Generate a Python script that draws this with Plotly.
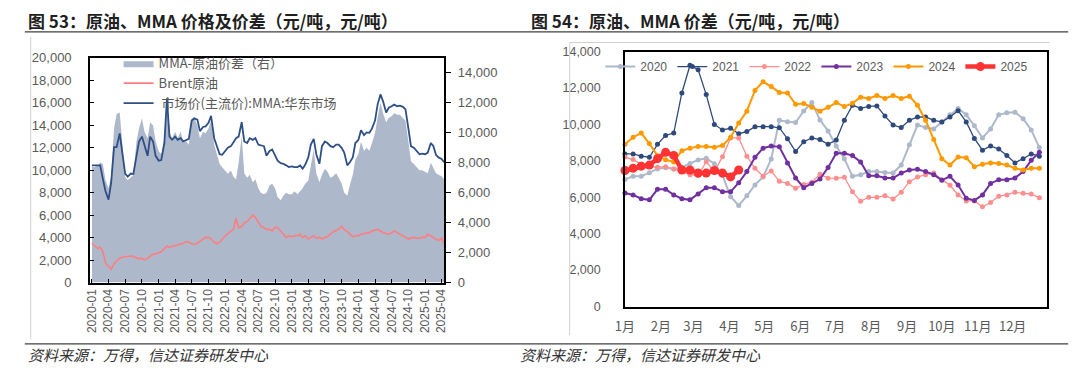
import plotly.graph_objects as go
import pandas as pd

W, H = 1088, 375

# ---------------- Figure 53 data (semi-monthly readings) ----------------
dates_l = pd.date_range('2020-01-01', '2025-04-15', freq='SMS')

spread = [7740, 7700, 7810, 8020, 7910, 6840, 6300, 7050,
          10280, 11250, 11350, 9420, 7050, 6840, 7050, 7160,
          9420, 10280, 10970, 10060, 9630, 10710, 10490, 9420,
          8770, 8560, 9630, 12320, 10060, 9630, 10060, 9630,
          10060, 9420, 9420, 9200, 10920, 11030, 10490, 9630,
          10060, 9960, 10280, 10820, 9200, 8560, 7910, 7700,
          7480, 7270, 7480, 7050, 6900, 8000, 9800, 7300,
          7000, 7200, 6700, 6900, 6300, 6000, 5900, 6000,
          6500, 6600, 6300, 5700, 5500, 5800, 6000, 5900,
          5900, 6100, 5900, 6100, 6300, 6600, 6800, 7800,
          8900, 7300, 6700, 7200, 7600, 7400, 7000, 7100,
          7300, 7000, 6600, 6000, 5800, 6500, 7200, 8200,
          8600, 9400, 8800, 9000, 8800, 9300, 10000, 11000,
          12000, 11300, 10700, 11000, 11100, 11300, 11200, 11200,
          11000, 10800, 9400, 8100, 7900, 7700, 7500, 7500,
          7400, 7300, 8000, 7600, 7300, 7200, 7100, 6900]

brent = [3500, 3300, 3020, 3160, 2740, 1740, 1450, 1170,
         1680, 1880, 2170, 2250, 2310, 2360, 2360, 2310,
         2170, 2110, 2170, 2020, 2170, 2360, 2540, 2540,
         2650, 2740, 3020, 3250, 3110, 3220, 3280, 3360,
         3390, 3500, 3650, 3590, 3450, 3390, 3500, 3680,
         3870, 4020, 4020, 3870, 3590, 3450, 3590, 3870,
         4160, 4360, 4590, 4730, 5730, 4870, 5010, 5300,
         5440, 5730, 6010, 5780, 5300, 5010, 4870, 4730,
         4730, 4590, 4930, 4870, 4590, 4300, 4020, 4160,
         4070, 4160, 4160, 4300, 4020, 4160, 3870, 4020,
         4160, 3960, 4020, 3870, 4020, 4070, 4300, 4530,
         4640, 4730, 5010, 4730, 4530, 4300, 4070, 4160,
         4160, 4300, 4360, 4420, 4440, 4590, 4670, 4730,
         4590, 4440, 4360, 4300, 4440, 4590, 4440, 4300,
         4160, 4020, 3870, 3960, 4020, 3960, 3930, 4020,
         4020, 4300, 4160, 4020, 3870, 3730, 3960, 3450]

mma = [10430, 10430, 10430, 10430, 9200, 8150, 7380, 8860,
       12050, 12050, 13280, 11420, 9700, 9430, 9700, 9660,
       11280, 12560, 12990, 12140, 11280, 12990, 12560, 11280,
       10850, 10900, 12420, 16410, 12990, 12710, 12990, 12700,
       12850, 12560, 12700, 12790, 14420, 14620, 14500, 13480,
       13850, 13900, 14220, 14840, 12850, 12140, 11420, 11370,
       11710, 12000, 12140, 12560, 12850, 12990, 14270, 12560,
       12420, 12850, 12700, 12850, 12280, 12220, 12140, 11280,
       11710, 11850, 11280, 10850, 10630, 10570, 10430, 10280,
       10340, 10280, 10280, 10430, 10140, 10480, 11140, 12280,
       12790, 11420, 10570, 12140, 12560, 12420, 12140, 12050,
       12280, 12280, 11990, 11570, 10430, 10710, 11140, 12420,
       12710, 13560, 13130, 13360, 13330, 13700, 14420, 15840,
       16750, 16130, 15130, 15560, 15700, 15840, 15700, 15750,
       15640, 15410, 13700, 12140, 11990, 11710, 11420, 11480,
       11420, 11570, 12420, 12140, 11370, 11140, 11000, 10710]

quarter_ticks = pd.date_range('2020-01-01', '2025-04-01', freq='QS')
quarter_labels = [d.strftime('%Y-%m') for d in quarter_ticks]

# ---------------- Figure 54 data (weekly readings) ----------------
month_labels = ['1月', '2月', '3月', '4月', '5月', '6月', '7月', '8月', '9月', '10月', '11月', '12月']
month_ticks = pd.date_range('2021-01-01', periods=12, freq='MS')

y2020 = [6980, 7150, 7150, 7350, 7560, 7620, 7560, 7650, 7860, 8050, 8140, 7840, 7200, 6030,
         5550, 6080, 6680, 7120, 8100, 10230, 10150, 10110, 10740, 11200, 10250, 9640, 8820,
         8120, 7150, 7240, 7410, 7410, 7360, 7330, 7770, 8880, 9970, 9830, 9750, 10140, 10530,
         10880, 10530, 9930, 9260, 9750, 10530, 10640, 10670, 10320, 9700, 8730]
y2021 = [8380, 8380, 8260, 8200, 8910, 9400, 9530, 11730, 13250, 13010, 11640, 10000, 9700,
         9790, 9490, 9610, 9880, 9880, 9880, 9820, 9210, 8520, 9050, 9260, 9170, 8910, 9140,
         10230, 11060, 10880, 10990, 11020, 10460, 9970, 9830, 10230, 10410, 10410, 10230,
         10140, 10410, 10760, 10140, 9230, 8590, 8820, 8650, 8290, 7890, 8120, 8380, 8260]
y2022 = [8210, 8070, 7820, 7700, 7650, 7680, 7560, 7420, 7240, 7190, 7950, 7420, 8220, 9260,
         9260, 8260, 7590, 7160, 7440, 6880, 6760, 6500, 6700, 6830, 7260, 7050, 7040, 7100,
         6300, 5780, 6000, 6000, 6090, 5900, 6270, 6860, 7110, 7240, 7340, 6970, 6660, 6130,
         5800, 5800, 5480, 5710, 6060, 6130, 6280, 6220, 6180, 5970]
y2023 = [6230, 6130, 5920, 5860, 6440, 6440, 6130, 5920, 5860, 6180, 6530, 6530, 6300, 6300,
         6800, 7410, 8200, 8700, 8820, 8770, 7890, 7060, 6530, 6760, 7000, 7640, 8420, 8420,
         8290, 7940, 7180, 7180, 7060, 7060, 7330, 7500, 7540, 7410, 7240, 6940, 7150, 6670,
         5950, 5830, 6130, 6760, 6970, 6970, 7060, 7410, 8030, 8470]
y2024 = [8910, 9300, 9530, 8950, 8290, 8060, 7940, 8560, 8700, 8790, 8790, 8750, 8840, 9300,
         10080, 10730, 11870, 12340, 12080, 11760, 11730, 11110, 11150, 10940, 10730, 10940,
         11200, 10990, 11160, 11500, 11430, 11590, 11430, 11590, 11430, 11550, 11060, 10230,
         9170, 8120, 7770, 8210, 8170, 7680, 7820, 7890, 7850, 7770, 7590, 7500, 7590, 7590]
y2025 = [7470, 7590, 7710, 7770, 8120, 8470, 8300, 7500, 7500, 7330, 7330, 7470, 7330, 7120, 7500]

years = ['2020', '2021', '2022', '2023', '2024', '2025']
series = [y2020, y2021, y2022, y2023, y2024, y2025]
colors = ['#ADB9CA', '#2E4A7D', '#FF8F8F', '#7030A0', '#FF9900', '#FF3333']
widths = [2, 1.3, 1.3, 2, 2, 4.5]
msizes = [5, 5, 5, 5, 5, 9]


def px(x):
    return x / W


def py(y):
    return 1 - y / H


fig = go.Figure()

# ---- Figure 53 traces ----
fig.add_trace(go.Scatter(x=dates_l, y=spread, name='MMA-原油价差（右）', mode='lines',
                         fill='tozeroy', fillcolor='#ADB9CA', line=dict(width=0, color='#ADB9CA'),
                         xaxis='x', yaxis='y', legend='legend', hoverinfo='skip'))
fig.add_trace(go.Scatter(x=dates_l, y=brent, name='Brent原油', mode='lines',
                         line=dict(color='#FF7C80', width=1.6),
                         xaxis='x', yaxis='y2', legend='legend'))
fig.add_trace(go.Scatter(x=dates_l, y=mma, name=' 市场价(主流价):MMA:华东市场', mode='lines',
                         line=dict(color='#2F4F86', width=1.8),
                         xaxis='x', yaxis='y2', legend='legend'))

# ---- Figure 54 traces ----
for yr, vals, c, w, ms in zip(years, series, colors, widths, msizes):
    xs = pd.date_range('2021-01-01', periods=len(vals), freq='7D')
    fig.add_trace(go.Scatter(x=xs, y=vals, name=yr, mode='lines+markers',
                             line=dict(color=c, width=w), marker=dict(color=c, size=ms),
                             xaxis='x3', yaxis='y3', legend='legend2', cliponaxis=False))

tickfont = dict(family='Liberation Sans, Arial', size=13, color='#595959')

fig.update_layout(
    width=W, height=H, margin=dict(l=0, r=0, t=0, b=0),
    paper_bgcolor='white', plot_bgcolor='rgba(0,0,0,0)',
    xaxis=dict(domain=[px(81), px(440)], anchor='y', type='date',
               range=['2019-12-21', '2025-04-16'], tickvals=list(quarter_ticks),
               ticktext=quarter_labels, tickangle=-90, ticks='inside', ticklen=4,
               tickcolor='black', showline=True, linecolor='black', linewidth=1.5,
               mirror=True, showgrid=False, zeroline=False,
               tickfont=dict(family='Liberation Sans, Arial', size=12, color='#595959')),
    yaxis=dict(domain=[py(287), py(53)], anchor='x', side='right', range=[0, 15000],
               tickvals=list(range(0, 15000, 2000)), tickformat=',', ticks='outside',
               ticklen=5, tickcolor='black', showline=True, linecolor='black', linewidth=1.5,
               showgrid=False, zeroline=False, tickfont=tickfont, ticklabelstandoff=4),
    yaxis2=dict(overlaying='y', anchor='x', side='left', range=[0, 20000],
                tickvals=list(range(0, 20001, 2000)), tickformat=',', ticks='inside',
                ticklen=4, tickcolor='black', showline=True, linecolor='black', linewidth=1.5,
                showgrid=False, zeroline=False, tickfont=tickfont, ticklabelstandoff=14),
    xaxis3=dict(domain=[px(623), px(1051)], anchor='y3', type='date',
                range=['2021-01-01', '2021-12-31'], tickvals=list(month_ticks),
                ticktext=month_labels, ticks='', showline=True, linecolor='black',
                linewidth=1.5, mirror=True, showgrid=False, zeroline=False,
                ticklabelstandoff=7,
                tickfont=dict(family='Noto Sans CJK SC', size=13, color='#595959')),
    yaxis3=dict(domain=[py(312), py(46.5)], anchor='x3', range=[0, 14000],
                tickvals=list(range(0, 14001, 2000)), tickformat=',', ticks='',
                showline=True, linecolor='black', linewidth=1.5, mirror=True,
                showgrid=False, zeroline=False, ticklabelstandoff=20,
                tickfont=dict(family='Liberation Sans, Arial', size=12.5, color='#595959')),
    legend=dict(x=px(110), y=py(43), xanchor='left', yanchor='top',
                bgcolor='rgba(0,0,0,0)', tracegroupgap=0, itemwidth=30,
                font=dict(family='Noto Sans CJK SC', size=13, color='#595959')),
    legend2=dict(orientation='h', x=px(598), y=py(47), xanchor='left', yanchor='top',
                 bgcolor='rgba(0,0,0,0)', itemwidth=30,
                 font=dict(family='Liberation Sans, Arial', size=12, color='#595959')),
)

# titles
title_font = dict(family='Noto Sans CJK SC', size=17, color='#1F1F1F')
fig.add_annotation(x=px(16), y=py(14), xref='paper', yref='paper', xanchor='left', yanchor='middle',
                   text='<b>图 53：原油、MMA 价格及价差（元/吨，元/吨）</b>', showarrow=False, font=title_font)
fig.add_annotation(x=px(526), y=py(14), xref='paper', yref='paper', xanchor='left', yanchor='middle',
                   text='<b>图 54：原油、MMA 价差（元/吨，元/吨）</b>', showarrow=False, font=title_font)
src_font = dict(family='Noto Sans CJK SC', size=15, color='#333333')
fig.add_annotation(x=px(16), y=py(362), xref='paper', yref='paper', xanchor='left', yanchor='middle',
                   text='<i>资料来源：万得，信达证券研发中心</i>', showarrow=False, font=src_font)
fig.add_annotation(x=px(515), y=py(362), xref='paper', yref='paper', xanchor='left', yanchor='middle',
                   text='<i>资料来源：万得，信达证券研发中心</i>', showarrow=False, font=src_font)

# rule lines and frames
fig.add_shape(type='line', xref='paper', yref='paper', x0=px(15), x1=px(1072), y0=py(26), y1=py(26),
              line=dict(color='#404040', width=1.2))
fig.add_shape(type='line', xref='paper', yref='paper', x0=px(15), x1=px(1072), y0=py(351), y1=py(351),
              line=dict(color='#404040', width=1.2))
fig.add_shape(type='line', xref='paper', yref='paper', x0=px(21), x1=px(21), y0=py(31), y1=py(346),
              line=dict(color='#D0D0D0', width=1))
fig.add_shape(type='line', xref='paper', yref='paper', x0=px(567), x1=px(567), y0=py(37), y1=py(342),
              line=dict(color='#D0D0D0', width=1))
fig.add_shape(type='line', xref='paper', yref='paper', x0=px(567), x1=px(1053), y0=py(37), y1=py(37),
              line=dict(color='#D0D0D0', width=1))

fig.write_html('out.html', config={'displayModeBar': False},
               post_script="document.body.style.margin='0px';")
